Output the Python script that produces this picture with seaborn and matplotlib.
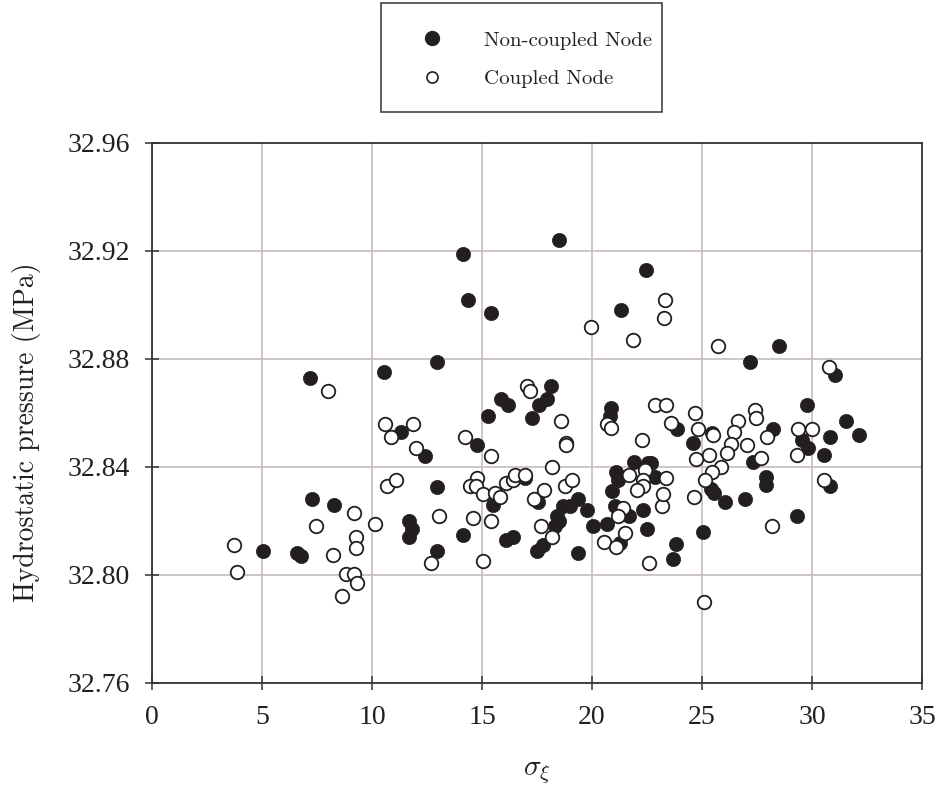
import matplotlib
matplotlib.use("Agg")
import matplotlib.pyplot as plt
from matplotlib.lines import Line2D
from matplotlib.patches import Rectangle
import seaborn as sns
import pandas as pd

# ---- data ----
noncoupled_x = [5.06, 6.58, 6.76, 7.18, 7.26, 8.27, 10.55, 11.3, 11.7, 11.8, 11.7, 12.4,
                12.97, 12.94, 12.94, 14.12, 14.12, 14.38, 14.76, 15.26, 15.4, 15.5, 15.85,
                16.2, 16.1, 16.4, 16.95, 17.26, 17.56, 17.6, 17.94, 18.14, 18.5, 17.49,
                17.79, 18.3, 18.4, 18.5, 18.7, 19.0, 19.38, 19.76, 19.38, 20.06, 20.67,
                20.8, 20.86, 20.9, 21.1, 21.2, 21.05, 21.3, 21.27, 21.7, 21.9, 22.33,
                22.48, 22.44, 22.56, 22.7, 22.86, 23.67, 23.8, 23.85, 24.6, 25.06, 25.44,
                25.4, 25.55, 26.05, 26.95, 27.18, 27.33, 27.9, 27.9, 28.24, 28.5, 29.3,
                29.53, 29.76, 29.83, 30.55, 30.8, 30.8, 31.05, 31.55, 32.15]
noncoupled_y = [32.809, 32.808, 32.807, 32.873, 32.828, 32.826, 32.875, 32.853, 32.820,
                32.817, 32.814, 32.844, 32.879, 32.8325, 32.809, 32.919, 32.815, 32.902,
                32.848, 32.859, 32.897, 32.826, 32.865, 32.863, 32.813, 32.814, 32.836,
                32.858, 32.827, 32.863, 32.865, 32.870, 32.924, 32.809, 32.811, 32.818,
                32.822, 32.820, 32.8255, 32.8255, 32.828, 32.824, 32.808, 32.818, 32.819,
                32.859, 32.862, 32.831, 32.838, 32.835, 32.8255, 32.898, 32.8117, 32.822,
                32.842, 32.824, 32.817, 32.913, 32.8414, 32.8414, 32.8364, 32.806, 32.8115,
                32.854, 32.849, 32.816, 32.8525, 32.832, 32.8305, 32.827, 32.828, 32.879,
                32.842, 32.8364, 32.8333, 32.854, 32.885, 32.822, 32.850, 32.863, 32.8472,
                32.8444, 32.851, 32.833, 32.874, 32.857, 32.852]

coupled_x = [3.73, 3.85, 7.45, 8.0, 8.24, 8.62, 8.82, 9.18, 9.33, 9.2, 9.27, 9.27, 10.15,
             10.6, 10.85, 10.67, 11.1, 11.85, 12.0, 13.06, 12.7, 14.23, 15.4, 14.76, 14.45,
             14.73, 15.06, 14.58, 15.4, 15.03, 15.6, 15.8, 16.1, 16.4, 16.5, 16.95, 17.03,
             17.18, 17.38, 17.8, 17.7, 18.2, 18.17, 18.77, 19.08, 18.6, 18.8, 18.8, 19.94,
             20.67, 20.85, 21.85, 22.26, 21.7, 22.4, 22.33, 22.33, 22.06, 21.4, 21.17, 21.5,
             20.56, 21.1, 22.6, 23.17, 22.86, 23.35, 23.3, 23.27, 25.74, 30.77, 24.68, 23.6,
             24.83, 25.5, 26.65, 26.45, 26.3, 26.15, 27.03, 27.4, 27.45, 27.94, 27.7, 29.35,
             29.98, 29.3, 25.33, 24.73, 25.85, 25.44, 25.14, 23.36, 23.24, 24.64, 30.56,
             28.2, 25.1]
coupled_y = [32.811, 32.801, 32.818, 32.868, 32.8074, 32.7922, 32.8004, 32.8004, 32.7972,
             32.823, 32.8142, 32.810, 32.819, 32.856, 32.851, 32.833, 32.835, 32.856, 32.847,
             32.822, 32.8043, 32.851, 32.844, 32.836, 32.833, 32.833, 32.830, 32.821, 32.820,
             32.8053, 32.8305, 32.829, 32.834, 32.835, 32.837, 32.837, 32.870, 32.868, 32.828,
             32.8315, 32.818, 32.8142, 32.840, 32.833, 32.8352, 32.857, 32.849, 32.848,
             32.892, 32.856, 32.8543, 32.887, 32.850, 32.837, 32.839, 32.8352, 32.833,
             32.8315, 32.8247, 32.822, 32.8155, 32.8124, 32.8105, 32.8043, 32.8255, 32.863,
             32.863, 32.902, 32.895, 32.885, 32.877, 32.860, 32.8562, 32.854, 32.852, 32.857,
             32.853, 32.8484, 32.8453, 32.848, 32.861, 32.858, 32.851, 32.8432, 32.854,
             32.854, 32.8444, 32.8444, 32.8428, 32.840, 32.8383, 32.8352, 32.836, 32.830,
             32.829, 32.8352, 32.818, 32.790]

series_labels = ["Non-coupled Node", "Coupled Node"]
x_ticks = [0, 5, 10, 15, 20, 25, 30, 35]
y_ticks = [32.76, 32.80, 32.84, 32.88, 32.92, 32.96]
x_label = r"$\sigma_{\xi}$"
y_label = "Hydrostatic pressure (MPa)"

# ---- style ----
sns.set_theme(style="white")
plt.rcParams["font.family"] = ["Liberation Serif", "DejaVu Serif"]
plt.rcParams["mathtext.fontset"] = "cm"

INK = "#231f20"
GRID = "#c9c1be"
W, H = 941, 797

df_nc = pd.DataFrame({"x": noncoupled_x, "y": noncoupled_y})
df_c = pd.DataFrame({"x": coupled_x, "y": coupled_y})

fig = plt.figure(figsize=(W / 100, H / 100), dpi=100)
ax = fig.add_axes([152 / W, 1 - 683 / H, (922 - 152) / W, (683 - 143) / H])

sns.scatterplot(data=df_nc, x="x", y="y", ax=ax, s=105, color=INK,
                edgecolor=INK, linewidth=0.5, zorder=3, legend=False)
sns.scatterplot(data=df_c, x="x", y="y", ax=ax, s=95, facecolor="white",
                edgecolor=INK, linewidth=1.3, zorder=4, legend=False)

ax.set_xlim(0, 35)
ax.set_ylim(32.76, 32.96)
ax.set_xticks(x_ticks)
ax.set_yticks(y_ticks)
ax.set_xticklabels([str(t) for t in x_ticks])
ax.set_yticklabels([f"{t:.2f}" for t in y_ticks])
ax.grid(True, color=GRID, linewidth=1.3)
ax.set_axisbelow(True)

for sp in ax.spines.values():
    sp.set_visible(True)
    sp.set_color("#333333")
    sp.set_linewidth(1.3)

ax.tick_params(axis="both", which="major", direction="inout", length=9.5, width=1.1,
               color="#333333", labelsize=20, pad=11, labelcolor=INK)
ax.tick_params(axis="both", bottom=True, left=True, top=False, right=False)

ax.set_xlabel(x_label, fontsize=21, color=INK, labelpad=22)
ax.set_ylabel(y_label, fontsize=20, color=INK, family="cmr10")
ax.yaxis.set_label_coords((41 - 152) / 770, (683 - 432) / 540)

handles = [
    Line2D([], [], linestyle="none", marker="o", markersize=10, markerfacecolor=INK,
           markeredgecolor=INK),
    Line2D([], [], linestyle="none", marker="o", markersize=8, markerfacecolor="white",
           markeredgecolor=INK, markeredgewidth=1.2),
]
leg = fig.legend(handles, series_labels, loc="upper left",
                 bbox_to_anchor=(405 / W, 1 - 31 / H), frameon=False,
                 borderaxespad=0, borderpad=0,
                 handlelength=2.6, handletextpad=1.2, labelspacing=0.95,
                 prop={"family": "cmr10", "size": 15})
for t in leg.get_texts():
    t.set_color(INK)

# legend frame
fig.patches.append(Rectangle((381 / W, 1 - 112 / H), (662 - 381) / W, (112 - 3) / H,
                             transform=fig.transFigure, fill=False,
                             edgecolor="#333333", linewidth=1.1))

fig.savefig("out.png", dpi=100)
